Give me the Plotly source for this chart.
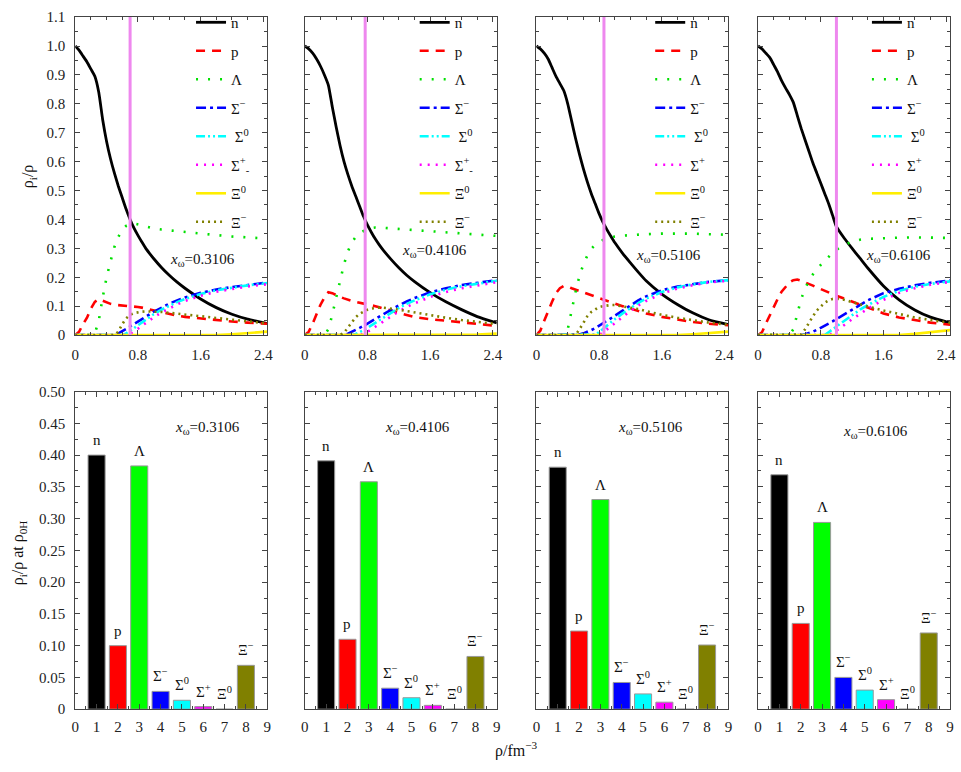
import plotly.graph_objects as go

FONT = "Liberation Serif, Times New Roman, serif"

# ---------------- data ----------------
RHO = [0, 0.05, 0.1, 0.15, 0.2, 0.25, 0.3, 0.35, 0.4, 0.45, 0.5, 0.55, 0.6, 0.65, 0.7,
       0.75, 0.8, 0.85, 0.9, 0.95, 1.0, 1.1, 1.2, 1.3, 1.4, 1.6, 1.8, 2.0, 2.2, 2.45]

SPECIES_LABELS = ["n", "p", "Λ", "Σ<sup>−</sup>", "Σ<sup>0</sup>", "Σ<sup>+</sup>", "Ξ<sup>0</sup>", "Ξ<sup>−</sup>"]
LEGEND_LABELS_A = ["n", "p", "Λ", "Σ<sup>−</sup>", " Σ<sup>0</sup>", "Σ<sup>+</sup><sub>-</sub>", "Ξ<sup>0</sup>", "Ξ<sup>−</sup>"]
LEGEND_LABELS_B = ["n", "p", "Λ", "Σ<sup>−</sup>", " Σ<sup>0</sup>", "Σ<sup>+</sup>", "Ξ<sup>0</sup>", "Ξ<sup>−</sup>"]
X_OMEGA = ["0.3106", "0.4106", "0.5106", "0.6106"]
RHO_0H = [0.70, 0.77, 0.862, 1.0]

BAR_POS = [1, 2, 3, 4, 5, 6, 7, 8]
BARS_1 = [0.400, 0.100, 0.383, 0.028, 0.014, 0.004, 0.0, 0.069]
BARS_2 = [0.391, 0.110, 0.358, 0.033, 0.018, 0.006, 0.0, 0.083]
BARS_3 = [0.381, 0.123, 0.330, 0.042, 0.024, 0.011, 0.0, 0.101]
BARS_4 = [0.369, 0.135, 0.294, 0.050, 0.030, 0.015, 0.0, 0.120]

# panel 1 (x_omega = 0.3106)
N_1 = [1.0, 0.985, 0.965, 0.945, 0.92, 0.895, 0.84, 0.745, 0.67, 0.61, 0.56, 0.515, 0.475, 0.435, 0.40,
       0.37, 0.345, 0.322, 0.30, 0.282, 0.265, 0.234, 0.207, 0.183, 0.162, 0.125, 0.095, 0.072, 0.055, 0.04]
P_1 = [0, 0.012, 0.038, 0.06, 0.092, 0.115, 0.124, 0.118, 0.112, 0.108, 0.105, 0.104, 0.103, 0.102, 0.101,
       0.099, 0.097, 0.095, 0.092, 0.089, 0.085, 0.078, 0.072, 0.067, 0.063, 0.057, 0.051, 0.047, 0.043, 0.039]
L_1 = [0, 0, 0, 0, 0, 0.005, 0.05, 0.13, 0.2, 0.255, 0.305, 0.34, 0.365, 0.378, 0.384,
       0.386, 0.384, 0.38, 0.376, 0.372, 0.369, 0.365, 0.362, 0.359, 0.356, 0.35, 0.346, 0.341, 0.338, 0.334]
SM_1 = [0, 0, 0, 0, 0, 0, 0, 0, 0, 0, 0, 0.006, 0.013, 0.021, 0.03,
        0.039, 0.047, 0.056, 0.064, 0.072, 0.08, 0.096, 0.109, 0.12, 0.13, 0.146, 0.158, 0.166, 0.173, 0.182]
S0_1 = [0, 0, 0, 0, 0, 0, 0, 0, 0, 0, 0, 0, 0, 0.006, 0.014,
        0.024, 0.034, 0.044, 0.054, 0.063, 0.072, 0.088, 0.102, 0.114, 0.125, 0.142, 0.155, 0.164, 0.172, 0.18]
SP_1 = [0, 0, 0, 0, 0, 0, 0, 0, 0, 0, 0, 0, 0, 0, 0.004,
        0.012, 0.022, 0.032, 0.042, 0.052, 0.061, 0.078, 0.093, 0.106, 0.118, 0.136, 0.15, 0.16, 0.168, 0.176]
X0_1 = [0, 0, 0, 0, 0, 0, 0, 0, 0, 0, 0, 0, 0, 0, 0,
        0, 0, 0, 0, 0, 0, 0, 0, 0, 0, 0, 0, 0.003, 0.007, 0.012]
XM_1 = [0, 0, 0, 0, 0, 0, 0, 0, 0, 0, 0, 0.012, 0.038, 0.058, 0.07,
        0.076, 0.079, 0.081, 0.082, 0.082, 0.082, 0.08, 0.077, 0.074, 0.071, 0.065, 0.058, 0.052, 0.047, 0.04]

# panel 2 (x_omega = 0.4106)
N_2 = [1.0, 0.99, 0.975, 0.955, 0.93, 0.9, 0.865, 0.79, 0.72, 0.655, 0.6, 0.555, 0.515, 0.48, 0.445,
       0.41, 0.38, 0.355, 0.332, 0.312, 0.294, 0.262, 0.233, 0.207, 0.185, 0.147, 0.115, 0.088, 0.064, 0.042]
P_2 = [0, 0.012, 0.04, 0.075, 0.105, 0.13, 0.148, 0.145, 0.138, 0.132, 0.127, 0.122, 0.118, 0.115, 0.112,
       0.11, 0.108, 0.104, 0.1, 0.096, 0.092, 0.084, 0.076, 0.069, 0.062, 0.055, 0.05, 0.044, 0.038, 0.032]
L_2 = [0, 0, 0, 0, 0, 0, 0.02, 0.07, 0.13, 0.19, 0.245, 0.29, 0.32, 0.34, 0.352,
       0.36, 0.366, 0.37, 0.372, 0.372, 0.371, 0.369, 0.367, 0.364, 0.362, 0.358, 0.354, 0.35, 0.347, 0.343]
SM_2 = [0, 0, 0, 0, 0, 0, 0, 0, 0, 0, 0, 0.005, 0.011, 0.018, 0.025,
        0.032, 0.04, 0.048, 0.056, 0.064, 0.072, 0.088, 0.103, 0.116, 0.128, 0.148, 0.162, 0.173, 0.181, 0.19]
S0_2 = [0, 0, 0, 0, 0, 0, 0, 0, 0, 0, 0, 0, 0, 0.004, 0.01,
        0.017, 0.025, 0.034, 0.043, 0.052, 0.061, 0.078, 0.094, 0.108, 0.12, 0.141, 0.157, 0.169, 0.178, 0.188]
SP_2 = [0, 0, 0, 0, 0, 0, 0, 0, 0, 0, 0, 0, 0, 0, 0,
        0.005, 0.011, 0.02, 0.029, 0.038, 0.047, 0.065, 0.082, 0.097, 0.11, 0.132, 0.149, 0.162, 0.172, 0.183]
X0_2 = [0, 0, 0, 0, 0, 0, 0, 0, 0, 0, 0, 0, 0, 0, 0,
        0, 0, 0, 0, 0, 0, 0, 0, 0, 0, 0, 0, 0, 0.002, 0.005]
XM_2 = [0, 0, 0, 0, 0, 0, 0, 0, 0, 0, 0.008, 0.025, 0.045, 0.062, 0.074,
        0.082, 0.088, 0.092, 0.094, 0.095, 0.095, 0.092, 0.088, 0.083, 0.078, 0.068, 0.06, 0.052, 0.045, 0.038]

# panel 3 (x_omega = 0.5106)
N_3 = [1.0, 0.99, 0.975, 0.955, 0.925, 0.895, 0.87, 0.845, 0.8, 0.74, 0.68, 0.625, 0.575, 0.53, 0.49,
       0.455, 0.42, 0.39, 0.365, 0.342, 0.32, 0.283, 0.25, 0.218, 0.188, 0.142, 0.106, 0.076, 0.053, 0.036]
P_3 = [0, 0.015, 0.05, 0.085, 0.115, 0.145, 0.162, 0.17, 0.168, 0.162, 0.157, 0.152, 0.147, 0.142, 0.137,
       0.132, 0.127, 0.123, 0.119, 0.114, 0.109, 0.1, 0.091, 0.083, 0.075, 0.063, 0.053, 0.045, 0.039, 0.034]
L_3 = [0, 0, 0, 0, 0, 0, 0, 0, 0.02, 0.09, 0.15, 0.205, 0.245, 0.275, 0.298,
       0.312, 0.322, 0.329, 0.334, 0.338, 0.341, 0.344, 0.346, 0.348, 0.349, 0.351, 0.352, 0.351, 0.349, 0.347]
SM_3 = [0, 0, 0, 0, 0, 0, 0, 0, 0, 0, 0, 0.002, 0.006, 0.011, 0.017,
        0.024, 0.032, 0.04, 0.049, 0.058, 0.067, 0.085, 0.103, 0.12, 0.134, 0.155, 0.168, 0.177, 0.184, 0.19]
S0_3 = [0, 0, 0, 0, 0, 0, 0, 0, 0, 0, 0, 0, 0, 0, 0,
        0.002, 0.01, 0.022, 0.033, 0.044, 0.055, 0.075, 0.094, 0.111, 0.126, 0.149, 0.165, 0.176, 0.184, 0.19]
SP_3 = [0, 0, 0, 0, 0, 0, 0, 0, 0, 0, 0, 0, 0, 0, 0,
        0, 0, 0.009, 0.02, 0.031, 0.042, 0.064, 0.084, 0.102, 0.118, 0.143, 0.161, 0.173, 0.182, 0.188]
X0_3 = [0, 0, 0, 0, 0, 0, 0, 0, 0, 0, 0, 0, 0, 0, 0,
        0, 0, 0, 0, 0, 0, 0, 0, 0, 0, 0, 0, 0.003, 0.007, 0.012]
XM_3 = [0, 0, 0, 0, 0, 0, 0, 0, 0, 0, 0, 0.02, 0.045, 0.065, 0.08,
        0.09, 0.097, 0.1, 0.103, 0.104, 0.104, 0.1, 0.096, 0.09, 0.083, 0.07, 0.06, 0.051, 0.043, 0.036]

# panel 4 (x_omega = 0.6106)
N_4 = [1.0, 0.99, 0.975, 0.96, 0.935, 0.91, 0.88, 0.855, 0.832, 0.805, 0.76, 0.715, 0.675, 0.635, 0.595,
       0.56, 0.525, 0.49, 0.455, 0.415, 0.375, 0.335, 0.3, 0.266, 0.232, 0.17, 0.122, 0.087, 0.062, 0.042]
P_4 = [0, 0.01, 0.04, 0.07, 0.1, 0.125, 0.15, 0.168, 0.182, 0.19, 0.192, 0.188, 0.183, 0.177, 0.171,
       0.165, 0.159, 0.153, 0.147, 0.141, 0.136, 0.126, 0.116, 0.105, 0.095, 0.075, 0.061, 0.052, 0.043, 0.036]
L_4 = [0, 0, 0, 0, 0, 0, 0, 0, 0, 0.02, 0.075, 0.125, 0.16, 0.19, 0.21,
       0.228, 0.243, 0.257, 0.272, 0.284, 0.295, 0.312, 0.323, 0.33, 0.333, 0.336, 0.337, 0.338, 0.337, 0.336]
SM_4 = [0, 0, 0, 0, 0, 0, 0, 0, 0, 0, 0, 0, 0.003, 0.007, 0.012,
        0.018, 0.026, 0.033, 0.04, 0.047, 0.055, 0.071, 0.088, 0.105, 0.12, 0.145, 0.16, 0.172, 0.181, 0.189]
S0_4 = [0, 0, 0, 0, 0, 0, 0, 0, 0, 0, 0, 0, 0, 0, 0,
        0, 0, 0, 0.01, 0.02, 0.03, 0.05, 0.07, 0.088, 0.104, 0.132, 0.153, 0.167, 0.177, 0.186]
SP_4 = [0, 0, 0, 0, 0, 0, 0, 0, 0, 0, 0, 0, 0, 0, 0,
        0, 0, 0, 0, 0.006, 0.015, 0.035, 0.055, 0.074, 0.091, 0.122, 0.146, 0.162, 0.174, 0.184]
X0_4 = [0, 0, 0, 0, 0, 0, 0, 0, 0, 0, 0, 0, 0, 0, 0,
        0, 0, 0, 0, 0, 0, 0, 0, 0, 0, 0, 0, 0.004, 0.01, 0.017]
XM_4 = [0, 0, 0, 0, 0, 0, 0, 0, 0, 0, 0, 0.002, 0.02, 0.045, 0.065,
        0.085, 0.1, 0.112, 0.12, 0.125, 0.126, 0.122, 0.114, 0.106, 0.099, 0.085, 0.072, 0.061, 0.052, 0.042]

TOP_Y_TICKS = [0, 0.1, 0.2, 0.3, 0.4, 0.5, 0.6, 0.7, 0.8, 0.9, 1.0, 1.1]
TOP_Y_TEXT = ["0", "0.1", "0.2", "0.3", "0.4", "0.5", "0.6", "0.7", "0.8", "0.9", "1.0", "1.1"]
TOP_X_TICKS = [0, 0.8, 1.6, 2.4]
TOP_X_TEXT = ["0", "0.8", "1.6", "2.4"]
BOT_Y_TICKS = [0, 0.05, 0.10, 0.15, 0.20, 0.25, 0.30, 0.35, 0.40, 0.45, 0.50]
BOT_Y_TEXT = ["0", "0.05", "0.10", "0.15", "0.20", "0.25", "0.30", "0.35", "0.40", "0.45", "0.50"]
BOT_X_TICKS = [0, 1, 2, 3, 4, 5, 6, 7, 8, 9]

PANEL_SERIES = [
    [N_1, P_1, L_1, SM_1, S0_1, SP_1, X0_1, XM_1],
    [N_2, P_2, L_2, SM_2, S0_2, SP_2, X0_2, XM_2],
    [N_3, P_3, L_3, SM_3, S0_3, SP_3, X0_3, XM_3],
    [N_4, P_4, L_4, SM_4, S0_4, SP_4, X0_4, XM_4],
]
PANEL_BARS = [BARS_1, BARS_2, BARS_3, BARS_4]

# ---------------- styles ----------------
LINE_STYLES = [
    dict(color="#000000", width=2.8, dash="solid", shape="spline", smoothing=0.5),
    dict(color="#ff0000", width=2.6, dash="9px,7px"),
    dict(color="#00e000", width=2.6, dash="2px,10px"),
    dict(color="#0000ff", width=2.6, dash="10px,4px,3px,4px"),
    dict(color="#00ffff", width=2.6, dash="9px,3px,2px,3px,2px,3px"),
    dict(color="#ff00ff", width=2.6, dash="2px,6px"),
    dict(color="#ffee00", width=2.6, dash="solid"),
    dict(color="#808000", width=2.6, dash="2px,4px"),
]
BAR_COLORS = ["#000000", "#ff0000", "#00ff00", "#0000ff", "#00ffff", "#ff00ff", "#ffff00", "#808000"]

W, H = 961, 772
COL_LEFT = [72, 304, 538, 762]
COL_W = 194
TOP_Y = (9.3, 334)
BOT_Y = (391.7, 716)
LEG_X = [189, 415, 653, 872]
OMEGA_TOP = [(1.63, 0.26), (1.65, 0.29), (1.69, 0.275), (1.79, 0.275)]
OMEGA_BOT = [(6.2, 0.443), (5.3, 0.443), (5.35, 0.442), (5.5, 0.437)]

fig = go.Figure()
layout = dict(
    width=W, height=H, margin=dict(l=0, r=0, t=0, b=0),
    paper_bgcolor="white", plot_bgcolor="white",
    font=dict(family=FONT, size=15, color="#111"),
    showlegend=True, bargap=0.2,
)

axis_common = dict(
    showline=True, linecolor="#444", linewidth=1, mirror="ticks",
    ticks="inside", ticklen=5, tickcolor="#444", showgrid=False, zeroline=False,
    tickfont=dict(family=FONT, size=15, color="#222"),
    minor=dict(ticks="inside", ticklen=3, tickcolor="#444"),
)

annotations = []
shapes = []

for k in range(4):
    ti, bi = k + 1, k + 5
    tx = "x" if ti == 1 else f"x{ti}"
    ty = "y" if ti == 1 else f"y{ti}"
    bx, by = f"x{bi}", f"y{bi}"
    xd = [COL_LEFT[k] / W, (COL_LEFT[k] + COL_W) / W]
    leg = "legend" if k == 0 else f"legend{k + 1}"
    labels = LEGEND_LABELS_A if k < 2 else LEGEND_LABELS_B

    for j, ys in enumerate(PANEL_SERIES[k]):
        fig.add_trace(go.Scatter(
            x=RHO, y=ys, mode="lines", name=labels[j], line=LINE_STYLES[j],
            xaxis=tx, yaxis=ty, legend=leg, legendgroup=f"p{k}_{j}",
        ))

    fig.add_trace(go.Bar(
        x=BAR_POS, y=PANEL_BARS[k], width=0.8, marker=dict(color=BAR_COLORS, line=dict(color="#999", width=1)),
        xaxis=bx, yaxis=by, showlegend=False,
    ))

    layout["xaxis" if ti == 1 else f"xaxis{ti}"] = dict(
        axis_common, domain=xd, range=[0, 2.45], anchor=ty,
        tickvals=TOP_X_TICKS, ticktext=TOP_X_TEXT, ticklabelstandoff=6,
        minor=dict(axis_common["minor"], dtick=0.2),
    )
    layout["yaxis" if ti == 1 else f"yaxis{ti}"] = dict(
        axis_common, domain=[1 - TOP_Y[1] / H, 1 - TOP_Y[0] / H], range=[0, 1.1], anchor=tx,
        tickvals=TOP_Y_TICKS, ticktext=TOP_Y_TEXT, showticklabels=(k == 0), ticklabelstandoff=6,
        minor=dict(axis_common["minor"], dtick=0.05),
    )
    layout[f"xaxis{bi}"] = dict(
        axis_common, domain=xd, range=[0, 9], anchor=by,
        tickvals=BOT_X_TICKS, ticklabelstandoff=4,
        minor=dict(axis_common["minor"], dtick=0.5),
    )
    layout[f"yaxis{bi}"] = dict(
        axis_common, domain=[1 - BOT_Y[1] / H, 1 - BOT_Y[0] / H], range=[0, 0.5], anchor=bx,
        tickvals=BOT_Y_TICKS, ticktext=BOT_Y_TEXT, showticklabels=(k == 0), ticklabelstandoff=6,
        minor=dict(axis_common["minor"], dtick=0.025),
    )

    layout[leg] = dict(
        x=LEG_X[k] / W, y=1 + 2 / H, xanchor="left", yanchor="top",
        bgcolor="rgba(0,0,0,0)", borderwidth=0, traceorder="grouped", tracegroupgap=6,
        font=dict(family=FONT, size=15, color="#111"), itemclick=False, itemdoubleclick=False,
    )

    shapes.append(dict(type="line", xref=tx, yref=ty, x0=RHO_0H[k], x1=RHO_0H[k], y0=0, y1=1.1,
                       line=dict(color="#ee88ee", width=3), layer="above"))

    omega_text = "<i>x</i><sub>ω</sub>=" + X_OMEGA[k]
    annotations.append(dict(xref=tx, yref=ty, x=OMEGA_TOP[k][0], y=OMEGA_TOP[k][1],
                            xanchor="center", yanchor="middle", text=omega_text, showarrow=False,
                            font=dict(family=FONT, size=15, color="#111")))
    annotations.append(dict(xref=bx, yref=by, x=OMEGA_BOT[k][0], y=OMEGA_BOT[k][1],
                            xanchor="center", yanchor="middle", text=omega_text, showarrow=False,
                            font=dict(family=FONT, size=15, color="#111")))
    for j, v in enumerate(PANEL_BARS[k]):
        annotations.append(dict(xref=bx, yref=by, x=BAR_POS[j], y=v, xanchor="center", yanchor="bottom",
                                yshift=5, text=SPECIES_LABELS[j], showarrow=False,
                                font=dict(family=FONT, size=15, color="#111")))

annotations.append(dict(xref="paper", yref="paper", x=25 / W, y=1 - 172 / H, text="ρ<sub>i</sub>/ρ",
                        xanchor="center", yanchor="middle",
                        textangle=-90, showarrow=False, font=dict(family=FONT, size=16, color="#111")))
annotations.append(dict(xref="paper", yref="paper", x=15 / W, y=1 - 556 / H,
                        text="ρ<sub>i</sub>/ρ at ρ<sub>0H</sub>", xanchor="center", yanchor="middle",
                        textangle=-90, showarrow=False, font=dict(family=FONT, size=16, color="#111")))
annotations.append(dict(xref="paper", yref="paper", x=518 / W, y=1 - 757 / H, text="ρ/fm<sup>−3</sup>",
                        xanchor="center", yanchor="middle",
                        showarrow=False, font=dict(family=FONT, size=16, color="#111")))

layout["annotations"] = annotations
layout["shapes"] = shapes
fig.update_layout(**layout)

fig.write_html("out.html")
